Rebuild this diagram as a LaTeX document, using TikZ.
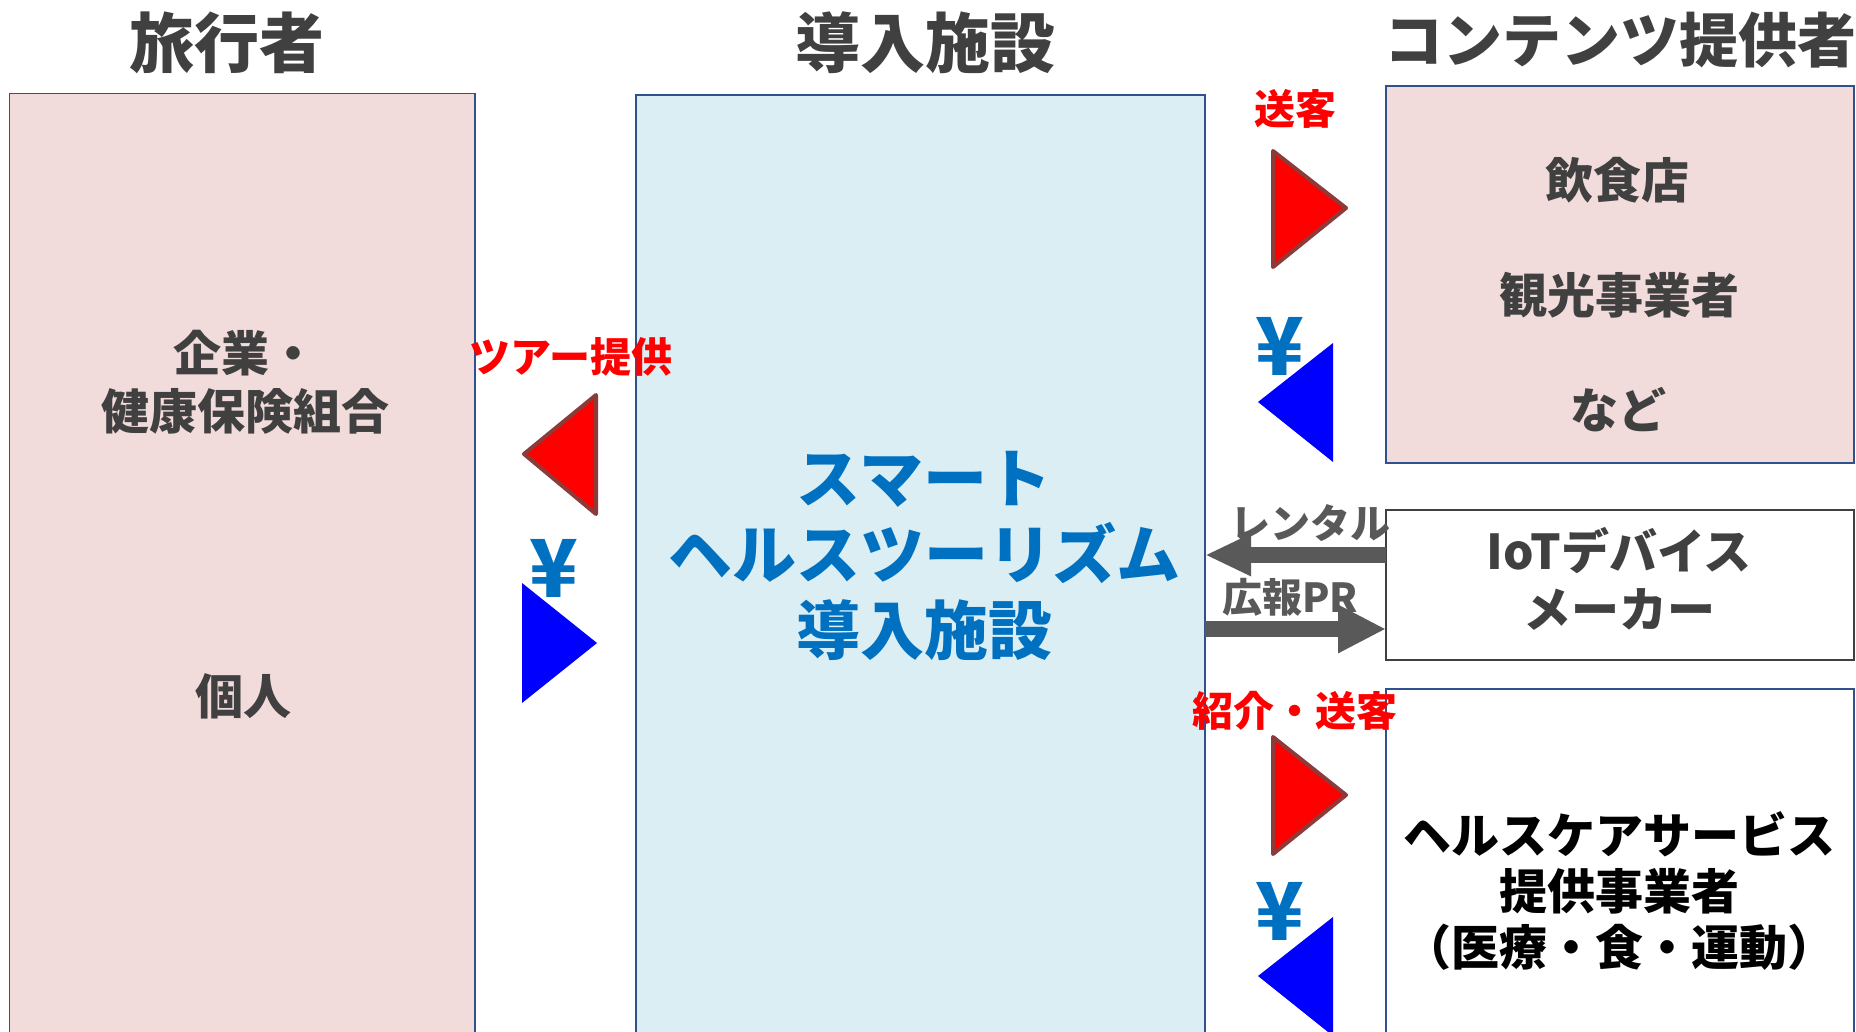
\documentclass[tikz,border=0pt]{standalone}
\usepackage{fontspec}
\setmainfont{Noto Sans CJK JP}
\usetikzlibrary{arrows.meta}
\definecolor{pinkfill}{HTML}{F2DCDB}
\definecolor{bluefill}{HTML}{DAEEF3}
\definecolor{boxblue}{HTML}{2F528F}
\definecolor{iotgray}{HTML}{404040}
\definecolor{txtgray}{HTML}{404040}
\definecolor{arrowgray}{HTML}{595959}
\definecolor{yenblue}{HTML}{0070C0}
\definecolor{tribrown}{HTML}{8C3B3B}
\definecolor{trired}{HTML}{FF0000}
\definecolor{pureblue}{HTML}{0000FF}
\begin{document}
\begin{tikzpicture}[x=0.5pt,y=-0.5pt,
  every node/.style={inner sep=0pt, outer sep=0pt},
  panel/.style={draw=boxblue, line width=0.9pt, rectangle, inner sep=0pt},
  title/.style={font=\bfseries\fontsize{32.5pt}{38pt}\selectfont, text=txtgray},
  body/.style={font=\bfseries\fontsize{24pt}{29pt}\selectfont, text=txtgray, align=center},
  midtext/.style={font=\bfseries\fontsize{32pt}{38pt}\selectfont, text=yenblue, align=center},
  redlabel/.style={font=\bfseries\fontsize{20.5pt}{24pt}\selectfont, text=trired},
  graylabel/.style={font=\bfseries\fontsize{20pt}{24pt}\selectfont, text=arrowgray},
  yen/.style={font=\bfseries\fontsize{40pt}{40pt}\selectfont, text=yenblue},
  redtri/.style={fill=trired, draw=tribrown, line width=2pt, line join=round},
  bluetri/.style={fill=pureblue},
  grayarrowL/.style={draw=arrowgray, line width=8pt, -{Triangle[length=23pt,width=19.5pt]}},
  grayarrowR/.style={draw=arrowgray, line width=8pt, -{Triangle[length=24pt,width=22.5pt]}}
]
\useasboundingbox (0,0) rectangle (1856,1032);
\clip (0,0) rectangle (1856,1032);
\fill[white] (0,0) rectangle (1856,1032);

% panels
\node[panel, fill=pinkfill, minimum width=232.75pt, minimum height=473.25pt] (trav) at (242.25,566.75) {};
\node[panel, fill=bluefill, minimum width=284.5pt, minimum height=472.5pt] (mid) at (920.5,567.5) {};
\node[panel, fill=pinkfill, minimum width=234pt, minimum height=188.5pt] (cont) at (1620,274.5) {};
\node[panel, draw=iotgray, line width=0.7pt, fill=white, minimum width=234pt, minimum height=75pt] (iot) at (1620,585) {};
\node[panel, fill=white, minimum width=234pt, minimum height=175.5pt] (hc) at (1620,864.5) {};

% titles
\node[title] (t1) at (227,43) {旅行者};
\node[title] (t2) at (925,43) {導入施設};
\node[title, font=\bfseries\fontsize{29.5pt}{36pt}\selectfont] (t3) at (1620,40) {コンテンツ提供者};

% traveller texts
\node[body] (corp) at (245,382) {企業・\\健康保険組合};
\node[body] (indiv) at (243,696) {個人};

% middle text
\node[midtext] (smart) at (924,556) {スマート\\ヘルスツーリズム\\導入施設};

% content provider texts
\node[body] (c1) at (1617,180) {飲食店};
\node[body] (c2) at (1619,295) {観光事業者};
\node[body] (c3) at (1618,410) {など};

% IoT
\node[body] (iott) at (1619,579) {IoTデバイス\\メーカー};

% healthcare
\node[body, text=black, font=\bfseries\fontsize{24pt}{28pt}\selectfont] (hct) at (1619,891) {ヘルスケアサービス\\提供事業者\\（医療・食・運動）};

% red labels
\node[redlabel] (l1) at (1295,109) {送客};
\node[redlabel] (l2) at (571,357) {ツアー提供};
\node[redlabel] (l3) at (1295,711) {紹介・送客};

% gray labels
\node[graylabel] (g1) at (1310,523) {レンタル};
\node[graylabel] (g2) at (1290,597) {広報PR};

% yen
\node[yen] (y1) at (1280,346) {¥};
\node[yen] (y2) at (554,568) {¥};
\node[yen] (y3) at (1280,911) {¥};

% triangles
\draw[redtri] (1273,151) -- (1273,267) -- (1346,208) -- cycle;
\fill[bluetri] (1333,343) -- (1333,462) -- (1258,402) -- cycle;
\draw[redtri] (596,395) -- (596,514) -- (524,454) -- cycle;
\fill[bluetri] (522,583) -- (522,703) -- (597,643) -- cycle;
\draw[redtri] (1273,737) -- (1273,854) -- (1346,795) -- cycle;
\fill[bluetri] (1333,917) -- (1333,1036) -- (1258,976) -- cycle;

% gray arrows
\coordinate (ra) at (0,555);
\coordinate (rb) at (0,629);
\draw[grayarrowL] (iot.west |- ra) -- (mid.east |- ra);
\draw[grayarrowR] (mid.east |- rb) -- (iot.west |- rb);
\end{tikzpicture}
\end{document}
